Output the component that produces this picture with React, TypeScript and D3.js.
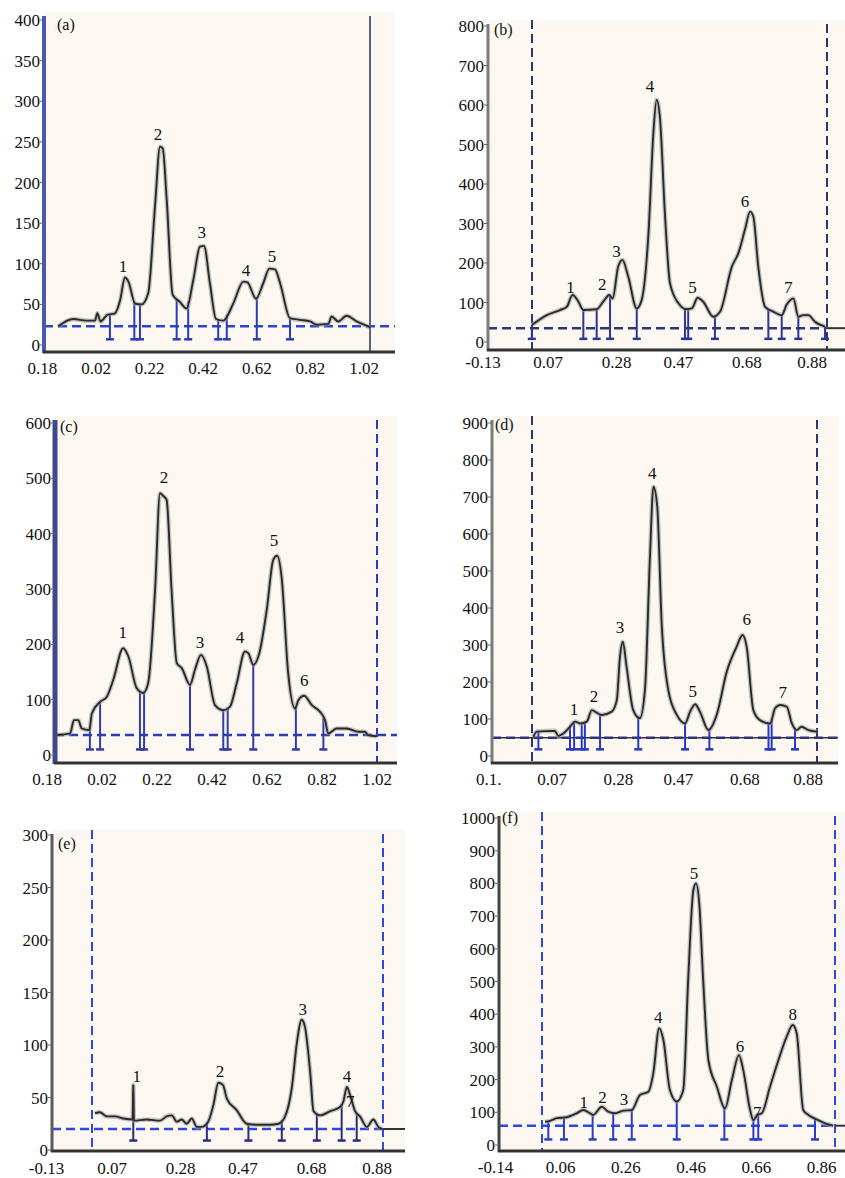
import * as d3 from "d3";
import { useEffect, useRef } from "react";

type Pt = [number, number];
type Peak = [string, number, number];

// ---- (a) ----
const curveA: Pt[] = [
  [-0.121, 23], [-0.065, 32], [-0.015, 30], [0.016, 30], [0.025, 39], [0.037, 29], [0.062, 37],
  [0.091, 39], [0.11, 55], [0.128, 83], [0.141, 78], [0.166, 51], [0.19, 50], [0.215, 64],
  [0.24, 170], [0.259, 244], [0.269, 242], [0.284, 178], [0.306, 62], [0.333, 53], [0.358, 45],
  [0.383, 80], [0.408, 121], [0.423, 122], [0.445, 76], [0.468, 32], [0.495, 30], [0.532, 51],
  [0.57, 78], [0.585, 77], [0.617, 57], [0.644, 76], [0.667, 94], [0.688, 93], [0.707, 76],
  [0.744, 33], [0.781, 31], [0.819, 29], [0.844, 25], [0.887, 26], [0.899, 35], [0.924, 29],
  [0.955, 36], [0.993, 29], [1.042, 22],
];
const peaksA: Peak[] = [["1", 0.121, 90], ["2", 0.251, 252], ["3", 0.415, 132], ["4", 0.58, 85], ["5", 0.677, 102]];
const dropsA = [0.072, 0.163, 0.184, 0.321, 0.364, 0.476, 0.508, 0.62, 0.744];
const xTicksA = [-0.18, 0.02, 0.22, 0.42, 0.62, 0.82, 1.02];
const xLabelsA = ["0.18", "0.02", "0.22", "0.42", "0.62", "0.82", "1.02"];

// ---- (b) ----
const curveB: Pt[] = [
  [0.02, 43], [0.066, 68], [0.106, 81], [0.127, 89], [0.145, 119], [0.163, 102], [0.178, 81],
  [0.219, 83], [0.239, 102], [0.258, 119], [0.268, 110], [0.285, 191], [0.298, 208], [0.316, 165],
  [0.342, 85], [0.357, 106], [0.378, 275], [0.393, 528], [0.403, 613], [0.413, 570], [0.429, 317],
  [0.444, 149], [0.47, 98], [0.495, 83], [0.511, 85], [0.529, 112], [0.546, 102], [0.577, 64],
  [0.598, 77], [0.634, 191], [0.654, 225], [0.674, 284], [0.69, 330], [0.7, 317], [0.715, 191],
  [0.736, 89], [0.761, 77], [0.787, 68], [0.802, 94], [0.823, 110], [0.838, 64], [0.853, 68],
  [0.869, 68], [0.889, 51], [0.92, 39],
];
const peaksB: Peak[] = [["1", 0.139, 123], ["2", 0.236, 132], ["3", 0.28, 216], ["4", 0.383, 634], ["5", 0.513, 123], ["6", 0.674, 343], ["7", 0.807, 123]];
const dropsB = [0.02, 0.178, 0.219, 0.26, 0.342, 0.49, 0.5, 0.582, 0.746, 0.787, 0.838, 0.92];
const xTicksB = [-0.13, 0.07, 0.28, 0.47, 0.68, 0.88];
const xLabelsB = ["-0.13", "0.07", "0.28", "0.47", "0.68", "0.88"];

// ---- (c) ----
const curveC: Pt[] = [
  [-0.145, 36], [-0.096, 39], [-0.082, 63], [-0.066, 63], [-0.054, 48], [-0.026, 45], [-0.017, 75],
  [0.013, 96], [0.037, 105], [0.061, 136], [0.097, 193], [0.116, 178], [0.146, 121], [0.17, 112],
  [0.188, 130], [0.213, 298], [0.231, 473], [0.243, 468], [0.255, 461], [0.273, 298], [0.292, 166],
  [0.31, 157], [0.34, 127], [0.358, 154], [0.38, 181], [0.401, 160], [0.431, 90], [0.461, 81],
  [0.485, 87], [0.51, 130], [0.54, 187], [0.552, 184], [0.57, 163], [0.592, 184], [0.619, 262],
  [0.643, 353], [0.657, 360], [0.673, 322], [0.697, 148], [0.722, 84], [0.734, 99], [0.755, 107],
  [0.783, 90], [0.813, 78], [0.831, 63], [0.843, 39], [0.873, 48], [0.91, 48], [0.952, 42],
  [0.976, 42], [0.988, 36], [1.019, 34],
];
const peaksC: Peak[] = [["1", 0.095, 211], ["2", 0.245, 492], ["3", 0.376, 193], ["4", 0.522, 202], ["5", 0.645, 377], ["6", 0.755, 124]];
const dropsC = [-0.024, 0.013, 0.158, 0.173, 0.34, 0.461, 0.477, 0.57, 0.725, 0.825];
const xTicksC = [-0.18, 0.02, 0.22, 0.42, 0.62, 0.82, 1.02];
const xLabelsC = ["0.18", "0.02", "0.22", "0.42", "0.62", "0.82", "1.02"];

// ---- (d) ----
const curveD: Pt[] = [
  [0.011, 52], [0.022, 66], [0.079, 68], [0.09, 54], [0.106, 61], [0.127, 79], [0.143, 93],
  [0.159, 88], [0.18, 93], [0.196, 124], [0.211, 117], [0.227, 111], [0.259, 120], [0.275, 151],
  [0.285, 268], [0.294, 309], [0.306, 241], [0.327, 124], [0.348, 102], [0.364, 178], [0.38, 539],
  [0.391, 728], [0.403, 674], [0.417, 359], [0.438, 178], [0.465, 111], [0.491, 88], [0.507, 120],
  [0.523, 140], [0.538, 120], [0.565, 70], [0.591, 111], [0.623, 228], [0.654, 295], [0.673, 327],
  [0.686, 295], [0.707, 124], [0.728, 97], [0.76, 88], [0.776, 129], [0.792, 138], [0.813, 133],
  [0.829, 88], [0.844, 70], [0.86, 79], [0.881, 70], [0.908, 66],
];
const peaksD: Peak[] = [["1", 0.14, 111], ["2", 0.203, 147], ["3", 0.285, 332], ["4", 0.387, 750], ["5", 0.515, 160], ["6", 0.686, 354], ["7", 0.8, 156]];
const dropsD = [0.027, 0.127, 0.14, 0.164, 0.174, 0.222, 0.343, 0.491, 0.568, 0.755, 0.765, 0.839];
const xTicksD = [-0.13, 0.07, 0.28, 0.47, 0.68, 0.88];
const xLabelsD = ["0.1.", "0.07", "0.28", "0.47", "0.68", "0.88"];

// ---- (e) ----
const curveE: Pt[] = [
  [0.018, 35], [0.033, 36], [0.054, 32], [0.079, 32], [0.105, 30], [0.133, 29], [0.135, 62],
  [0.137, 28], [0.176, 29], [0.217, 28], [0.237, 32], [0.253, 33], [0.268, 27], [0.283, 29],
  [0.298, 25], [0.314, 30], [0.329, 22], [0.344, 22], [0.364, 27], [0.38, 43], [0.395, 64],
  [0.409, 62], [0.421, 49], [0.451, 38], [0.482, 25], [0.512, 24], [0.553, 24], [0.579, 25],
  [0.599, 32], [0.62, 60], [0.635, 102], [0.65, 124], [0.66, 117], [0.676, 73], [0.686, 37],
  [0.706, 33], [0.737, 37], [0.767, 41], [0.777, 46], [0.788, 60], [0.798, 52], [0.813, 37],
  [0.828, 32], [0.849, 22], [0.869, 29], [0.884, 22], [0.895, 20],
];
const peaksE: Peak[] = [["1", 0.146, 65], ["2", 0.4, 70], ["3", 0.653, 129], ["4", 0.788, 65], ["7", 0.798, 41]];
const dropsE = [0.135, 0.36, 0.487, 0.589, 0.696, 0.772, 0.818];
const xTicksE = [-0.13, 0.07, 0.28, 0.47, 0.68, 0.88];
const xLabelsE = ["-0.13", "0.07", "0.28", "0.47", "0.68", "0.88"];

// ---- (f) ----
const curveF: Pt[] = [
  [0.012, 71], [0.027, 74], [0.048, 82], [0.078, 85], [0.109, 97], [0.129, 107], [0.15, 97],
  [0.16, 92], [0.186, 117], [0.206, 102], [0.227, 97], [0.252, 105], [0.278, 107], [0.303, 153],
  [0.329, 163], [0.344, 219], [0.362, 357], [0.375, 321], [0.395, 168], [0.416, 133], [0.436, 168],
  [0.451, 505], [0.467, 780], [0.475, 800], [0.485, 739], [0.497, 505], [0.513, 260], [0.539, 178],
  [0.564, 112], [0.585, 199], [0.607, 275], [0.62, 229], [0.641, 107], [0.651, 76], [0.663, 92],
  [0.677, 97], [0.702, 178], [0.728, 260], [0.753, 331], [0.772, 367], [0.784, 341], [0.804, 107],
  [0.82, 92], [0.85, 76], [0.871, 66], [0.896, 59],
];
const peaksF: Peak[] = [["1", 0.131, 112], ["2", 0.188, 127], ["3", 0.254, 122], ["4", 0.359, 372], ["5", 0.469, 812], ["6", 0.61, 285], ["7", 0.663, 82], ["8", 0.772, 382]];
const dropsF = [0.022, 0.07, 0.158, 0.221, 0.278, 0.416, 0.562, 0.651, 0.666, 0.84];
const xTicksF = [-0.14, 0.06, 0.26, 0.46, 0.66, 0.86];
const xLabelsF = ["-0.14", "0.06", "0.26", "0.46", "0.66", "0.86"];

const FONT = "Times New Roman, Liberation Serif, DejaVu Serif, serif";

const panels = [
  { tag: "(a)", curve: curveA, peaks: peaksA, drops: dropsA, xTicks: xTicksA, xLabels: xLabelsA, yMax: 400, yStep: 50, base: 23, cap: 7,
    L: { rDom: [0.02, 1.02], xR: [96, 364], yR: [345, 20], axX: 44, top: 12, right: 395, axY: 352, labY: 374, dashL: 0, dashR: 370, solidR: true,
      axC: "#4a57ad", axW: 4, dashC: "#2b44d4", baseEnd: 395, solidBase: false, tagX: 57, tagY: 30, dropC: "#2a3ab8" } },
  { tag: "(b)", curve: curveB, peaks: peaksB, drops: dropsB, xTicks: xTicksB, xLabels: xLabelsB, yMax: 800, yStep: 100, base: 35, cap: 8,
    L: { rDom: [-0.13, 0.88], xR: [483, 812], yR: [342, 26], axX: 488, top: 20, right: 845, axY: 350, labY: 368, dashL: 532, dashR: 827, solidR: false,
      axC: "#7c7c7c", axW: 3, dashC: "#2e3572", baseEnd: 826, solidBase: false, tagX: 494, tagY: 35, dropC: "#2c3596" } },
  { tag: "(c)", curve: curveC, peaks: peaksC, drops: dropsC, xTicks: xTicksC, xLabels: xLabelsC, yMax: 600, yStep: 100, base: 36, cap: 10,
    L: { rDom: [0.02, 1.02], xR: [102, 377], yR: [755, 423], axX: 55, top: 416, right: 397, axY: 763, labY: 785, dashL: 0, dashR: 377, solidR: false,
      axC: "#3f488f", axW: 5, dashC: "#2b3cb8", baseEnd: 397, solidBase: false, tagX: 60, tagY: 432, dropC: "#2f3caa" } },
  { tag: "(d)", curve: curveD, peaks: peaksD, drops: dropsD, xTicks: xTicksD, xLabels: xLabelsD, yMax: 900, yStep: 100, base: 49, cap: 18,
    L: { rDom: [0.07, 0.88], xR: [552, 808], yR: [756, 423], axX: 492, top: 416, right: 838, axY: 763, labY: 785, dashL: 532, dashR: 817, solidR: false,
      axC: "#7c7c7c", axW: 3, dashC: "#2e3572", baseEnd: 838, solidBase: true, tagX: 495, tagY: 430, dropC: "#2438c4" } },
  { tag: "(e)", curve: curveE, peaks: peaksE, drops: dropsE, xTicks: xTicksE, xLabels: xLabelsE, yMax: 300, yStep: 50, base: 20, cap: 9,
    L: { rDom: [0.07, 0.88], xR: [112, 377], yR: [1150, 835], axX: 52, top: 830, right: 405, axY: 1151, labY: 1174, dashL: 92, dashR: 383, solidR: false,
      axC: "#5a5a5a", axW: 3, dashC: "#2d47e2", baseEnd: 383, solidBase: false, tagX: 58, tagY: 849, dropC: "#26307a" } },
  { tag: "(f)", curve: curveF, peaks: peaksF, drops: dropsF, xTicks: xTicksF, xLabels: xLabelsF, yMax: 1000, yStep: 100, base: 59, cap: 17,
    L: { rDom: [0.06, 0.86], xR: [560.7, 821.5], yR: [1145, 818], axX: 499, top: 812, right: 845, axY: 1151, labY: 1173, dashL: 542, dashR: 835, solidR: false,
      axC: "#454545", axW: 3, dashC: "#2d47e2", baseEnd: 835, solidBase: false, tagX: 502, tagY: 823, dropC: "#2a3cc8" } },
];

// value of the trace at a given Rf, for hanging the integration marks
const valueAt = (curve: Pt[], r: number) => {
  const i = d3.bisector((d: Pt) => d[0]).left(curve, r);
  if (i <= 0) return curve[0][1];
  if (i >= curve.length) return curve[curve.length - 1][1];
  const [r0, v0] = curve[i - 1];
  const [r1, v1] = curve[i];
  return v0 + ((r - r0) / (r1 - r0)) * (v1 - v0);
};

const App = () => {
  const ref = useRef<SVGSVGElement>(null);

  useEffect(() => {
    const svg = d3.select(ref.current);
    svg.selectAll("*").remove();

    panels.forEach((p) => {
      const L = p.L;
      const x = d3.scaleLinear().domain(L.rDom).range(L.xR);
      const y = d3.scaleLinear().domain([0, p.yMax]).range(L.yR);
      const g = svg.append("g").style("font-family", FONT);

      g.append("rect")
        .attr("x", L.axX).attr("y", L.top)
        .attr("width", L.right - L.axX).attr("height", L.axY - L.top)
        .attr("fill", "#fcf8f1");

      // origin / front lines
      if (L.dashL) {
        g.append("line")
          .attr("x1", L.dashL).attr("x2", L.dashL).attr("y1", L.top).attr("y2", L.axY)
          .attr("stroke", L.dashC).attr("stroke-width", 2).attr("stroke-dasharray", "9,5");
      }
      g.append("line")
        .attr("x1", L.dashR).attr("x2", L.dashR).attr("y1", L.top + 4).attr("y2", L.axY)
        .attr("stroke", L.solidR ? "#2b2f55" : L.dashC).attr("stroke-width", L.solidR ? 1.5 : 2)
        .attr("stroke-dasharray", L.solidR ? null : "9,5");

      // baseline
      const by = y(p.base);
      if (L.solidBase) {
        g.append("line").attr("x1", L.axX).attr("x2", L.right).attr("y1", by).attr("y2", by)
          .attr("stroke", "#333").attr("stroke-width", 1.5);
      }
      g.append("line").attr("x1", L.axX).attr("x2", L.baseEnd).attr("y1", by).attr("y2", by)
        .attr("stroke", L.dashC).attr("stroke-width", 2.5).attr("stroke-dasharray", "9,5");
      if (L.baseEnd < L.right) {
        g.append("line").attr("x1", L.baseEnd).attr("x2", L.right).attr("y1", by).attr("y2", by)
          .attr("stroke", "#333").attr("stroke-width", 2);
      }

      // integration marks
      p.drops.forEach((r) => {
        const xr = x(r);
        g.append("line").attr("x1", xr).attr("x2", xr)
          .attr("y1", y(valueAt(p.curve, r))).attr("y2", y(p.cap))
          .attr("stroke", L.dropC).attr("stroke-width", 2);
        g.append("line").attr("x1", xr - 4).attr("x2", xr + 4)
          .attr("y1", y(p.cap)).attr("y2", y(p.cap))
          .attr("stroke", L.dropC).attr("stroke-width", 2.5);
      });

      // trace
      const line = d3.line<Pt>().x((d) => x(d[0])).y((d) => y(d[1])).curve(d3.curveMonotoneX);
      g.append("path").attr("d", line(p.curve)).attr("fill", "none")
        .attr("stroke", "#9a9a9a").attr("stroke-width", 4.5).attr("opacity", 0.55);
      g.append("path").attr("d", line(p.curve)).attr("fill", "none")
        .attr("stroke", "#2a2a2a").attr("stroke-width", 1.9);

      // axes
      g.append("line").attr("x1", L.axX).attr("x2", L.axX).attr("y1", L.top + 4).attr("y2", L.axY + 1)
        .attr("stroke", L.axC).attr("stroke-width", L.axW);
      g.append("line").attr("x1", L.axX - 1).attr("x2", L.right).attr("y1", L.axY).attr("y2", L.axY)
        .attr("stroke", "#333").attr("stroke-width", 3);

      const yTicks = d3.range(0, p.yMax + 1, p.yStep);
      yTicks.forEach((t) => {
        g.append("line").attr("x1", L.axX - 4).attr("x2", L.axX).attr("y1", y(t)).attr("y2", y(t))
          .attr("stroke", "#666").attr("stroke-width", 1);
        g.append("text").attr("x", L.axX - 4).attr("y", y(t) + 6)
          .attr("text-anchor", "end").attr("font-size", 17)
          .attr("fill", "#111").text(t);
      });

      p.xTicks.forEach((t, i) => {
        g.append("text").attr("x", x(t)).attr("y", L.labY)
          .attr("text-anchor", "middle").attr("font-size", 17)
          .attr("fill", "#111").text(p.xLabels[i]);
      });

      // peak numbers
      p.peaks.forEach(([lab, r, v]) => {
        g.append("text").attr("x", x(r)).attr("y", y(v))
          .attr("text-anchor", "middle").attr("font-size", 17)
          .attr("fill", "#111").text(lab);
      });

      g.append("text").attr("x", L.tagX).attr("y", L.tagY)
        .attr("font-size", 16).attr("fill", "#111").text(p.tag);
    });
  }, []);

  return (
    <svg ref={ref} width={845} height={1178}
      style={{ position: "absolute", left: 0, top: 0, background: "#fff" }} />
  );
};

export default App;
